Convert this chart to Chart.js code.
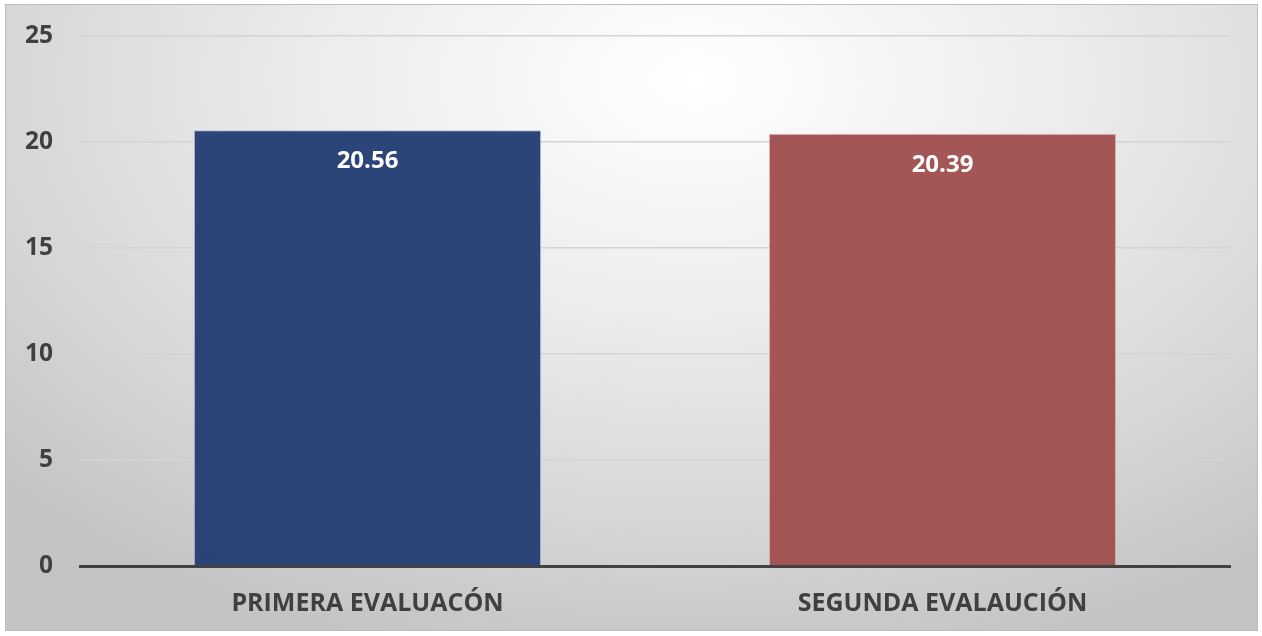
<!DOCTYPE html>
<html>
<head>
<meta charset="utf-8">
<script src="https://cdn.jsdelivr.net/npm/chart.js@4"></script>
<style>
  html, body { margin:0; padding:0; background:#ffffff; }
  #wrap { position:relative; width:1262px; height:636px; overflow:hidden; }
  #bg { position:absolute; left:5px; top:4px; width:1251px; height:625px;
        border:1px solid #bdbdbd;
        background: radial-gradient(ellipse 75% 95% at 55% 12%, #ffffff 0%, #ececec 40%, #d6d6d6 75%, #c4c4c4 100%); }
  canvas { position:absolute; left:0; top:0; }
</style>
</head>
<body>
<div id="wrap">
  <div id="bg"></div>
  <canvas id="c" width="1262" height="636"></canvas>
</div>
<script>
const categories = ["PRIMERA EVALUACÓN", "SEGUNDA EVALAUCIÓN"];
const values = [20.56, 20.39];
const barColors = ["rgba(37,63,117,0.97)", "rgba(161,79,79,0.97)"];
const barBorders = ["rgba(170,185,215,0.9)", "rgba(225,180,180,0.9)"];

const valueLabels = {
  id: 'valueLabels',
  afterDatasetsDraw(chart) {
    const ctx = chart.ctx;
    const meta = chart.getDatasetMeta(0);
    ctx.save();
    ctx.fillStyle = '#ffffff';
    ctx.font = 'bold 24px "Open Sans"';
    ctx.textAlign = 'center';
    ctx.textBaseline = 'middle';
    meta.data.forEach((bar, i) => {
      ctx.fillText(values[i].toFixed(2), bar.x, bar.y + 31);
    });
    ctx.restore();
  }
};

new Chart(document.getElementById('c'), {
  type: 'bar',
  data: {
    labels: categories,
    datasets: [{
      data: values,
      backgroundColor: barColors,
      borderColor: barBorders,
      borderWidth: 1,
      categoryPercentage: 0.604,
      barPercentage: 1.0
    }]
  },
  options: {
    responsive: false,
    animation: false,
    devicePixelRatio: 1,
    layout: { padding: { left: 0, right: 32, top: 36, bottom: 0 } },
    plugins: { legend: { display: false }, tooltip: { enabled: false } },
    scales: {
      y: {
        min: 0, max: 25,
        ticks: { stepSize: 5, padding: 27, color: '#404040', font: { family: '"Open Sans"', weight: 'bold', size: 24.5 } },
        grid: {
          drawTicks: false,
          color: (c) => c.tick && c.tick.value === 0 ? 'rgba(0,0,0,0)' : '#d4d4d4',
          lineWidth: 1.5
        },
        border: { display: false },
        afterFit(s) { s.width = 80; s.paddingTop = 0; s.paddingBottom = 0; }
      },
      x: {
        ticks: { padding: 23, color: '#404040', font: { family: '"Open Sans"', weight: 'bold', size: 25 } },
        grid: { display: false, drawTicks: false },
        border: { display: true, color: '#404040', width: 3 },
        afterFit(s) { s.height = 70; }
      }
    }
  },
  plugins: [valueLabels]
});
</script>
</body>
</html>
